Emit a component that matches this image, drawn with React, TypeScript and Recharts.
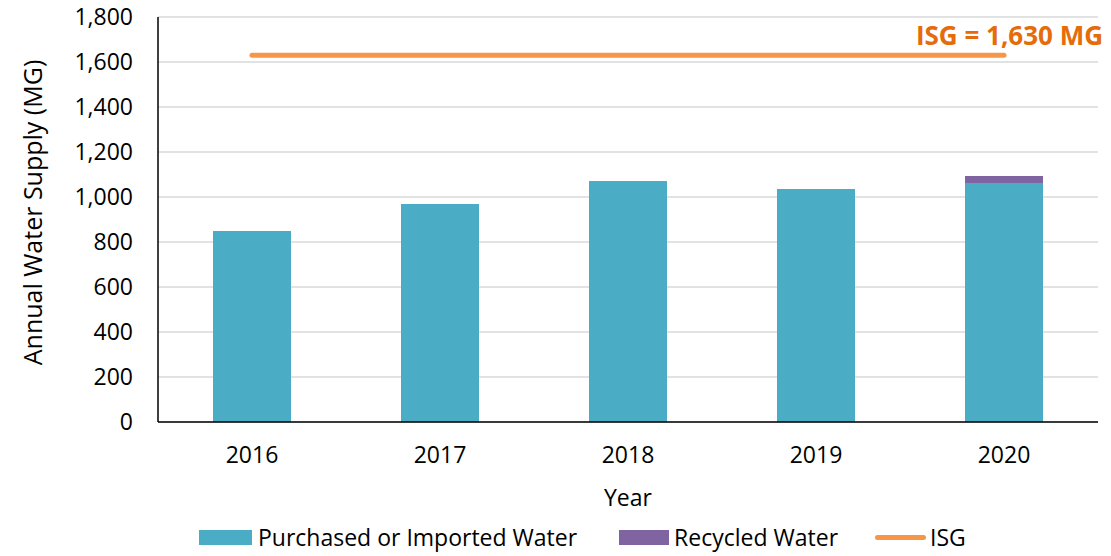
import {
  ComposedChart,
  Bar,
  Line,
  XAxis,
  YAxis,
  CartesianGrid,
  Legend,
  LabelList,
} from 'recharts'

const years = ['2016', '2017', '2018', '2019', '2020']
const purchased = [849, 969, 1071, 1036, 1062]
const recycled = [0, 0, 0, 0, 31]
const isg = [1630, 1630, 1630, 1630, 1630]
const yTicks = [0, 200, 400, 600, 800, 1000, 1200, 1400, 1600, 1800]

const TEAL = '#4BACC6'
const PURPLE = '#8064A2'
const ORANGE = '#F79646'
const LABEL_ORANGE = '#E46C0A'
const FONT = '"Open Sans", sans-serif'

const data = years.map((year, i) => ({
  year,
  purchased: purchased[i],
  recycled: recycled[i],
  isg: isg[i],
}))

function ChartLegend() {
  return (
    <div
      style={{
        height: 44,
        boxSizing: 'border-box',
        paddingTop: 6,
        paddingLeft: 199,
        display: 'flex',
        justifyContent: 'flex-start',
        alignItems: 'center',
        fontSize: 23,
        color: '#000',
        fontFamily: FONT,
        whiteSpace: 'nowrap',
      }}
    >
      <span style={{ width: 53, height: 15, background: TEAL, marginRight: 6 }} />
      <span>Purchased or Imported Water</span>
      <span style={{ width: 50, height: 15, background: PURPLE, marginLeft: 42, marginRight: 5 }} />
      <span>Recycled Water</span>
      <span
        style={{ width: 51, height: 5, borderRadius: 3, background: ORANGE, marginLeft: 37, marginRight: 4 }}
      />
      <span>ISG</span>
    </div>
  )
}

export default function App() {
  return (
    <div style={{ position: 'absolute', top: 0, left: 0 }}>
      <ComposedChart
        width={1111}
        height={556}
        data={data}
        margin={{ top: 17, right: 13, left: 0, bottom: 0 }}
      >
        <CartesianGrid vertical={false} stroke="#D9D9D9" strokeWidth={1.5} />
        <XAxis
          dataKey="year"
          height={90}
          tickLine={false}
          tickSize={0}
          tickMargin={25}
          axisLine={{ stroke: '#000', strokeWidth: 1.5 }}
          tick={{ fontSize: 23, fill: '#000', fontFamily: FONT }}
          label={{
            content: ({ viewBox }: any) => (
              <text
                x={viewBox.x + viewBox.width / 2}
                y={viewBox.y + 84}
                textAnchor="middle"
                fontSize={23}
                fontFamily={FONT}
                fill="#000"
              >
                Year
              </text>
            ),
          }}
        />
        <YAxis
          width={158}
          domain={[0, 1800]}
          ticks={yTicks}
          interval={0}
          tickLine={false}
          tickSize={0}
          tickMargin={25}
          axisLine={{ stroke: '#000', strokeWidth: 1.5 }}
          tick={{ fontSize: 23, fill: '#000', fontFamily: FONT }}
          tickFormatter={(v) => v.toLocaleString('en-US')}
          label={{
            content: ({ viewBox }: any) => {
              const cx = viewBox.x + 32
              const cy = viewBox.y + viewBox.height / 2 - 7
              return (
                <text
                  x={cx}
                  y={cy}
                  transform={`rotate(-90 ${cx} ${cy})`}
                  textAnchor="middle"
                  dominantBaseline="central"
                  fontSize={25}
                  fontFamily={FONT}
                  fill="#000"
                >
                  Annual Water Supply (MG)
                </text>
              )
            },
          }}
        />
        <Legend verticalAlign="bottom" height={44} content={() => <ChartLegend />} />
        <Bar
          dataKey="purchased"
          name="Purchased or Imported Water"
          stackId="a"
          fill={TEAL}
          barSize={78}
          isAnimationActive={false}
        />
        <Bar
          dataKey="recycled"
          name="Recycled Water"
          stackId="a"
          fill={PURPLE}
          barSize={78}
          isAnimationActive={false}
        />
        <Line
          dataKey="isg"
          name="ISG"
          stroke={ORANGE}
          strokeWidth={5}
          strokeLinecap="round"
          dot={false}
          activeDot={false}
          isAnimationActive={false}
        >
          <LabelList
            dataKey="isg"
            content={(props: any) => {
              if (props.index !== years.length - 1) return null
              return (
                <text
                  x={props.x + 99}
                  y={props.y - 10}
                  textAnchor="end"
                  fontSize={26}
                  fontWeight="bold"
                  fontFamily={FONT}
                  fill={LABEL_ORANGE}
                >
                  {`ISG = ${Number(props.value).toLocaleString('en-US')} MG`}
                </text>
              )
            }}
          />
        </Line>
      </ComposedChart>
    </div>
  )
}
